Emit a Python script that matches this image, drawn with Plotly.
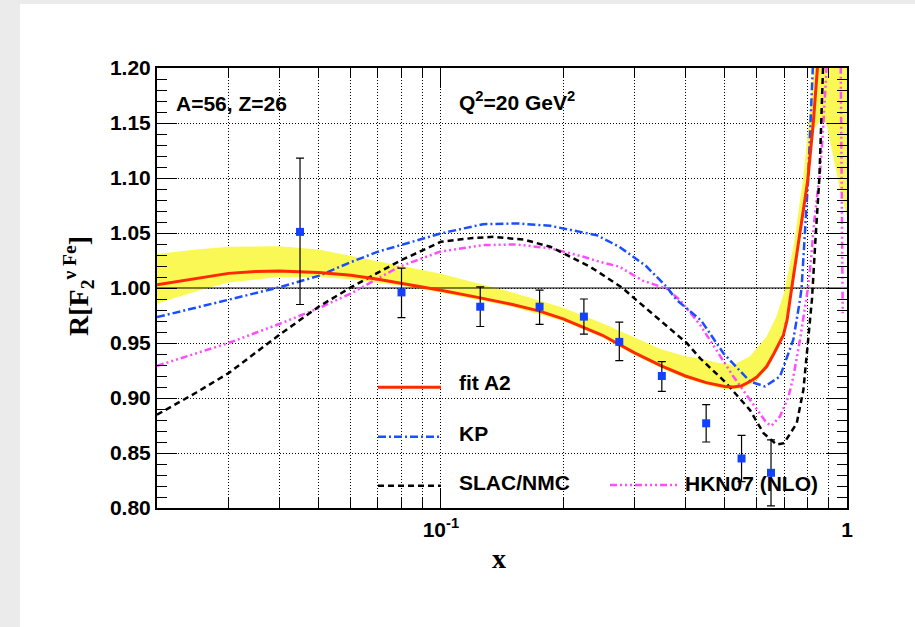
import math
import plotly.graph_objects as go

# ---------------- data ----------------
x_data = [0.045, 0.080, 0.125, 0.175, 0.225, 0.275, 0.35, 0.45, 0.55, 0.65]
y_data = [1.051, 0.996, 0.983, 0.983, 0.974, 0.951, 0.920, 0.877, 0.845, 0.832]
err_plus = [0.067, 0.022, 0.018, 0.015, 0.016, 0.018, 0.013, 0.017, 0.021, 0.030]
err_minus = [0.066, 0.023, 0.018, 0.016, 0.016, 0.017, 0.014, 0.017, 0.021, 0.030]

fitA2_x = [0.02, 0.025, 0.03, 0.035, 0.04, 0.05, 0.06, 0.07, 0.08, 0.10, 0.125, 0.15,
           0.175, 0.20, 0.25, 0.30, 0.35, 0.40, 0.45, 0.50, 0.525, 0.55, 0.577, 0.60,
           0.634, 0.66, 0.697, 0.712, 0.731, 0.76, 0.78, 0.80, 0.826, 0.847, 0.87]
fitA2_y = [1.003, 1.009, 1.0133, 1.015, 1.0155, 1.014, 1.0115, 1.008, 1.0045, 0.998, 0.991, 0.985,
           0.979, 0.972, 0.957, 0.941, 0.929, 0.920, 0.914, 0.9105, 0.910, 0.911, 0.915, 0.919,
           0.9286, 0.940, 0.957, 0.971, 1.000, 1.041, 1.069, 1.097, 1.150, 1.200, 1.260]

band_up_x = [0.02, 0.025, 0.03, 0.04, 0.05, 0.06, 0.07, 0.08, 0.10, 0.125, 0.15, 0.17, 0.20,
             0.25, 0.30, 0.35, 0.40, 0.435, 0.48, 0.525, 0.577, 0.634, 0.67, 0.70, 0.74,
             0.78, 0.82, 0.86, 1.0]
band_up_y = [1.031, 1.035, 1.0375, 1.038, 1.035, 1.029, 1.024, 1.020, 1.013, 1.004, 0.996, 0.990, 0.982,
             0.968, 0.955, 0.944, 0.938, 0.936, 0.932, 0.930, 0.938, 0.956, 0.974, 0.996, 1.040,
             1.100, 1.180, 1.300, 1.600]
band_lo_x = [0.02, 0.025, 0.03, 0.04, 0.05, 0.06, 0.08, 0.10, 0.125, 0.15, 0.20, 0.25, 0.30,
             0.35, 0.40, 0.45, 0.50, 0.55, 0.60, 0.64, 0.67, 0.70, 0.73, 0.76, 0.80, 0.83,
             0.86, 0.89, 0.93, 0.96, 1.0]
band_lo_y = [0.986, 0.997, 1.005, 1.010, 1.010, 1.008, 1.002, 0.996, 0.989, 0.983, 0.970, 0.955, 0.939,
             0.927, 0.918, 0.912, 0.908, 0.9085, 0.916, 0.928, 0.943, 0.965, 0.998, 1.040, 1.098, 1.145,
             1.152, 1.150, 1.115, 1.090, 1.065]

kp_x = [0.02, 0.025, 0.03, 0.04, 0.05, 0.06, 0.07, 0.08, 0.10, 0.127, 0.154, 0.186, 0.242, 0.275,
        0.32, 0.359, 0.381, 0.4375, 0.496, 0.577, 0.628, 0.684, 0.7375, 0.766, 0.773, 0.802,
        0.825, 0.85]
kp_y = [0.9735, 0.982, 0.989, 1.0006, 1.011, 1.0235, 1.033, 1.039, 1.0496, 1.058, 1.0587, 1.0565, 1.048, 1.0375,
        1.020, 1.0013, 0.989, 0.9704, 0.9408, 0.915, 0.9105, 0.9196, 0.953, 0.989, 1.000, 1.098,
        1.200, 1.320]

slac_x = [0.02, 0.025, 0.03, 0.04, 0.05, 0.06, 0.07, 0.08, 0.10, 0.12, 0.135, 0.16, 0.186, 0.233,
          0.247, 0.28, 0.303, 0.403, 0.435, 0.50, 0.577, 0.623, 0.671, 0.70, 0.752, 0.781,
          0.80, 0.82, 0.835, 0.855, 0.873, 0.89]
slac_y = [0.8848, 0.905, 0.9226, 0.9574, 0.983, 1.0005, 1.014, 1.0254, 1.042, 1.0455, 1.0465, 1.044, 1.0375, 1.0193,
          1.0133, 1.000, 0.989, 0.950, 0.936, 0.915, 0.889, 0.868, 0.8576, 0.859, 0.877, 0.9075,
          0.948, 0.990, 1.040, 1.100, 1.200, 1.320]

hkn_x = [0.02, 0.03, 0.04, 0.05, 0.06, 0.079, 0.0995, 0.127, 0.1535, 0.186, 0.2245, 0.246, 0.275,
         0.314, 0.359, 0.388, 0.435, 0.477, 0.525, 0.577, 0.634, 0.652, 0.684, 0.718, 0.738,
         0.766, 0.788, 0.80, 0.815, 0.83, 0.845, 0.858, 0.87, 0.891, 0.92, 0.95, 0.962, 0.965, 0.976]
hkn_y = [0.9292, 0.950, 0.9673, 0.9816, 0.995, 1.0193, 1.033, 1.039, 1.0396, 1.036, 1.0284, 1.0238, 1.0194,
         1.0067, 0.9995, 0.989, 0.9664, 0.9438, 0.9196, 0.8984, 0.8773, 0.8748, 0.8833, 0.9014, 0.9196,
         0.953, 0.982, 0.998, 1.025, 1.060, 1.085, 1.104, 1.135, 1.200, 1.320, 1.380, 1.300, 1.200, 0.977]

x_range = [0.02, 1.0]
y_range = [0.80, 1.20]
ref_level = 1.0
x_major_ticks = [0.1, 1.0]
x_major_labels = ["10<sup>-1</sup>", "1"]
x_minor_ticks = [0.02, 0.03, 0.04, 0.05, 0.06, 0.07, 0.08, 0.09,
                 0.2, 0.3, 0.4, 0.5, 0.6, 0.7, 0.8, 0.9]

legend_names = ["fit A2", "KP", "SLAC/NMC", "HKN07 (NLO)"]

# ---------------- styles ----------------
RED = "#ff2a00"
BLUE = "#1a4fff"
MAGENTA = "#ff4cff"
BLACK = "#000000"
YELLOW = "rgb(250,248,85)"
SANS = "Liberation Sans, Arial, Helvetica, sans-serif"
SERIF = "Liberation Serif, Times New Roman, serif"

DASH_KP = "8px,3px,2px,3px"
DASH_SLAC = "6px,4px"
DASH_HKN = "7px,3px,2px,3px,2px,3px,2px,3px"

fig = go.Figure()

# yellow uncertainty band for fit A2
fig.add_trace(go.Scatter(
    x=band_up_x + band_lo_x[::-1],
    y=band_up_y + band_lo_y[::-1],
    fill="toself", fillcolor=YELLOW, line=dict(width=0),
    mode="lines", hoverinfo="skip", showlegend=False))

# reference line R = 1
fig.add_trace(go.Scatter(x=x_range, y=[ref_level, ref_level], mode="lines",
                         line=dict(color=BLACK, width=1), showlegend=False, hoverinfo="skip"))

fig.add_trace(go.Scatter(x=hkn_x, y=hkn_y, mode="lines", name=legend_names[3],
                         line=dict(color=MAGENTA, width=2.5, dash=DASH_HKN), showlegend=False))
fig.add_trace(go.Scatter(x=slac_x, y=slac_y, mode="lines", name=legend_names[2],
                         line=dict(color=BLACK, width=2.5, dash=DASH_SLAC), showlegend=False))
fig.add_trace(go.Scatter(x=kp_x, y=kp_y, mode="lines", name=legend_names[1],
                         line=dict(color=BLUE, width=2.5, dash=DASH_KP), showlegend=False))
fig.add_trace(go.Scatter(x=fitA2_x, y=fitA2_y, mode="lines", name=legend_names[0],
                         line=dict(color=RED, width=3), showlegend=False))

# data points
fig.add_trace(go.Scatter(
    x=x_data, y=y_data, mode="markers", showlegend=False,
    marker=dict(symbol="square", size=8, color="#1440ff"),
    error_y=dict(type="data", symmetric=False, array=err_plus, arrayminus=err_minus,
                 color=BLACK, thickness=1.2, width=4)))

# ---------------- layout ----------------
L, R, T, B = 157, 68, 68, 119
W, H = 915, 627
PW, PH = W - L - R, H - T - B


def px_x(p):
    return (p - L) / PW


def px_y(p):
    return 1 - (p - T) / PH


shapes = []
annotations = []

# white canvas over the light grey page border (as in the reference screenshot)
shapes.append(dict(type="rect", xref="paper", yref="paper", layer="below",
                   x0=px_x(20), x1=px_x(W + 5), y0=px_y(H + 5), y1=px_y(4),
                   fillcolor="white", line=dict(width=0)))

# manual legend
leg = [
    (legend_names[0], 378, 441, 387.3, 457, 382.5, dict(color=RED, width=3)),
    (legend_names[1], 378, 441, 436.7, 457, 433, dict(color=BLUE, width=2.5, dash=DASH_KP)),
    (legend_names[2], 378, 441, 485.7, 457, 482, dict(color=BLACK, width=2.5, dash=DASH_SLAC)),
    (legend_names[3], 610, 678, 485.0, 683, 483.5, dict(color=MAGENTA, width=2.5, dash=DASH_HKN)),
]
for name, lx0, lx1, ly, tx, ty, lstyle in leg:
    shapes.append(dict(type="line", xref="paper", yref="paper", layer="above",
                       x0=px_x(lx0), x1=px_x(lx1), y0=px_y(ly), y1=px_y(ly), line=lstyle))
    annotations.append(dict(xref="paper", yref="paper", x=px_x(tx), y=px_y(ty),
                            xanchor="left", yanchor="middle", showarrow=False, text=name,
                            font=dict(family=SANS, size=21, color="black", weight="bold")))

annotations.append(dict(xref="paper", yref="paper", x=px_x(174), y=px_y(103.5),
                        xanchor="left", yanchor="middle", showarrow=False, text="A=56, Z=26",
                        font=dict(family=SANS, size=21, color="black", weight="bold")))
annotations.append(dict(xref="paper", yref="paper", x=px_x(457), y=px_y(101),
                        xanchor="left", yanchor="middle", showarrow=False,
                        text="Q<sup>2</sup>=20 GeV<sup>2</sup>",
                        font=dict(family=SANS, size=21, color="black", weight="bold")))
# axis titles
annotations.append(dict(xref="paper", yref="paper", x=px_x(499), y=px_y(558),
                        xanchor="center", yanchor="middle", showarrow=False, text="x",
                        font=dict(family=SERIF, size=28, color="black", weight="bold")))
annotations.append(dict(xref="paper", yref="paper", x=px_x(78), y=px_y(286),
                        xanchor="center", yanchor="middle", showarrow=False, textangle=-90,
                        text="R[F<sub>2</sub><sup>ν Fe</sup>]",
                        font=dict(family=SERIF, size=28, color="black", weight="bold")))

fig.update_layout(
    width=W, height=H, autosize=False,
    margin=dict(l=L, r=R, t=T, b=B, pad=0),
    paper_bgcolor="#ebebeb", plot_bgcolor="white",
    shapes=shapes, annotations=annotations, showlegend=False,
)

fig.update_xaxes(
    type="log", range=[math.log10(x_range[0]), math.log10(x_range[1])],
    tickvals=x_major_ticks, ticktext=x_major_labels,
    ticks="inside", ticklen=20, tickwidth=1, tickcolor="black",
    showline=True, linewidth=2, linecolor="black", mirror="allticks",
    showgrid=True, gridcolor="black", gridwidth=1, griddash="1px,2px",
    zeroline=False, ticklabelstandoff=2,
    tickfont=dict(family=SANS, size=21, color="black", weight="bold"),
    minor=dict(tickvals=x_minor_ticks, ticks="inside", ticklen=10, tickcolor="black",
               showgrid=True, gridcolor="black", gridwidth=1, griddash="1px,2px"),
)
fig.update_yaxes(
    range=y_range, tick0=0.8, dtick=0.05, tickformat=".2f",
    ticks="inside", ticklen=20, tickwidth=1, tickcolor="black",
    showline=True, linewidth=2, linecolor="black", mirror="allticks",
    showgrid=True, gridcolor="black", gridwidth=1, griddash="1px,2px",
    zeroline=False,
    tickfont=dict(family=SANS, size=21, color="black", weight="bold"),
    minor=dict(dtick=0.01, tick0=0.8, ticks="inside", ticklen=10, tickcolor="black", showgrid=False),
)

fig.write_html(
    "out.html",
    config={"displayModeBar": False},
    post_script="document.body.style.margin='0px';document.body.style.overflow='hidden';",
)
